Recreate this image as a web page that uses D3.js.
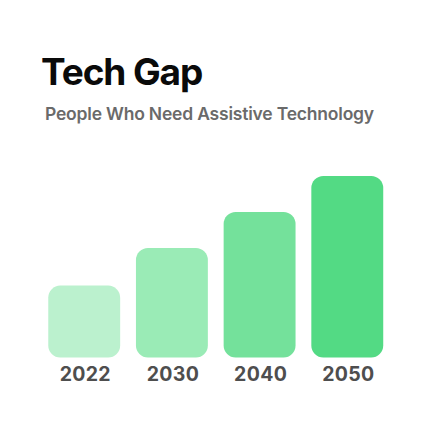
<!DOCTYPE html>
<html>
<head>
<meta charset="utf-8">
<script src="https://cdn.jsdelivr.net/npm/d3@7"></script>
<style>
  html, body { margin: 0; padding: 0; background: #ffffff; }
  svg { display: block; }
</style>
</head>
<body>
<div id="chart"></div>
<script>
const titleText = "Tech Gap";
const subtitleText = "People Who Need Assistive Technology";
const years = ["2022", "2030", "2040", "2050"];
const values = [2.0, 3.05, 4.05, 5.05];
const colors = ["#bbf1ce", "#9aebb6", "#74e19b", "#53da84"];

const W = 438, H = 446;
const svg = d3.select("#chart").append("svg")
  .attr("width", W).attr("height", H);

svg.append("rect").attr("width", W).attr("height", H).attr("fill", "#ffffff");

svg.append("text")
  .attr("x", 41).attr("y", 85)
  .attr("font-family", "Inter, 'Noto Sans', sans-serif")
  .attr("font-weight", 700)
  .attr("font-size", 37)
  .attr("letter-spacing", -1.1)
  .attr("fill", "#0a0a0a")
  .text(titleText);

svg.append("text")
  .attr("x", 45).attr("y", 120)
  .attr("font-family", "Inter, 'Noto Sans', sans-serif")
  .attr("font-weight", 600)
  .attr("font-size", 17.5)
  .attr("letter-spacing", -0.2)
  .attr("fill", "#6a6a6a")
  .text(subtitleText);

const x = d3.scaleBand().domain(years).range([39.5, 392]).paddingInner(0.18).paddingOuter(0.1);
const y = d3.scaleLinear().domain([0, 5.05]).range([357.5, 176]);

svg.append("g").selectAll("rect").data(years).join("rect")
  .attr("x", d => x(d))
  .attr("width", x.bandwidth())
  .attr("y", (d, i) => y(values[i]))
  .attr("height", (d, i) => y(0) - y(values[i]))
  .attr("rx", 12).attr("ry", 12)
  .attr("fill", (d, i) => colors[i]);

const axis = d3.axisBottom(x).tickSize(0).tickPadding(0);
const gx = svg.append("g").attr("transform", `translate(0, ${y(0)})`).call(axis);
gx.select(".domain").remove();
gx.selectAll("text")
  .attr("dy", null)
  .attr("y", 23.5)
  .attr("dx", 1)
  .attr("font-family", "Inter, 'Noto Sans', sans-serif")
  .attr("font-weight", 700)
  .attr("font-size", 19.5)
  .attr("letter-spacing", 0.3)
  .attr("fill", "#4e4e4e");
</script>
</body>
</html>
